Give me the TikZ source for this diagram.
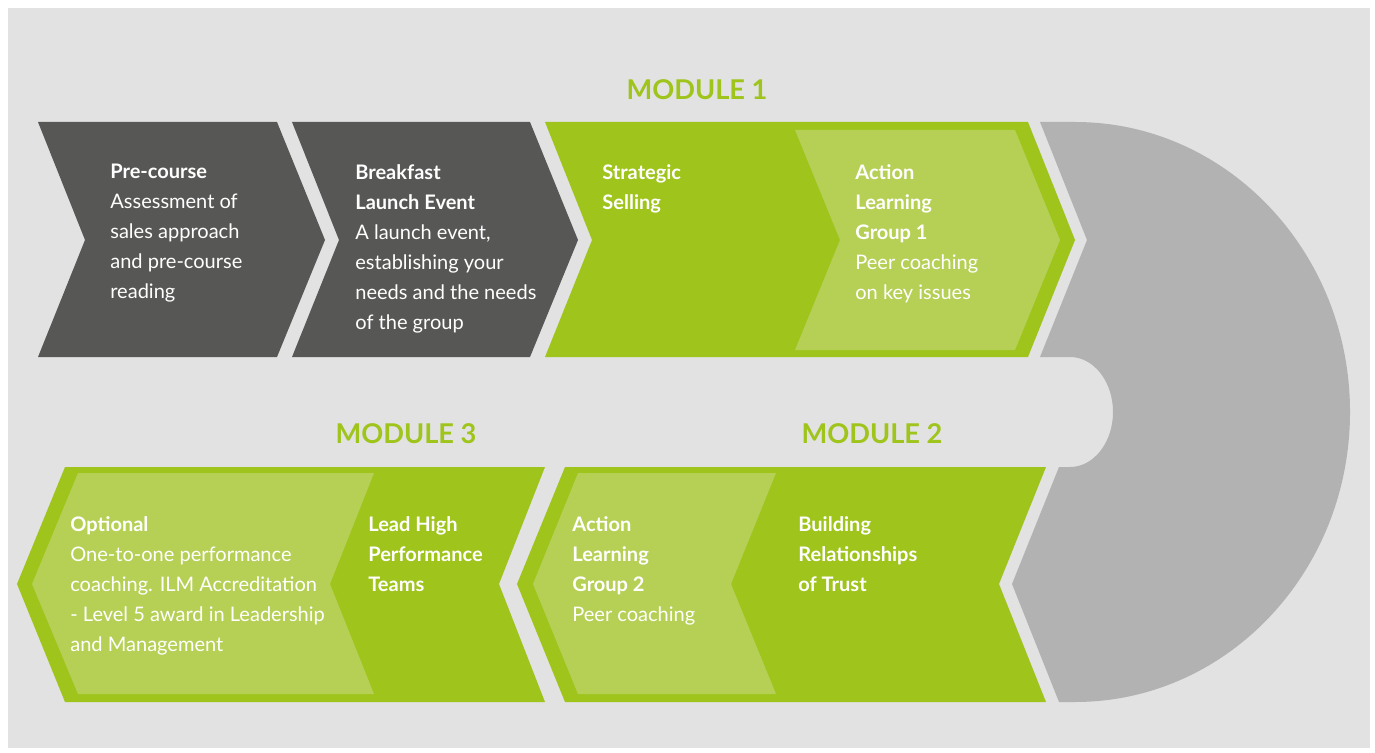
\documentclass[tikz,border=0pt]{standalone}
\usepackage{fontspec}
\setmainfont{Lato}
\usepackage{tikz}
\usetikzlibrary{positioning}
\definecolor{pagegray}{RGB}{226,226,226}
\definecolor{stepgray}{RGB}{87,87,86}
\definecolor{modgreen}{RGB}{159,196,28}
\definecolor{lightgreen}{RGB}{182,208,86}
\definecolor{loopgray}{RGB}{178,178,178}

\begin{document}
\begin{tikzpicture}[
  x=0.02cm, y=-0.02cm,
  darkstep/.style={fill=stepgray},
  modstep/.style={fill=modgreen},
  substep/.style={fill=lightgreen},
  txt/.style={anchor=north west, align=left, inner sep=0pt, text=white,
              font=\fontsize{11.4}{17.07}\selectfont},
  modlabel/.style={text=modgreen, inner sep=0pt,
                   font=\bfseries\fontsize{15.5}{18}\selectfont}
]

% page and background
\fill[white] (0,0) rectangle (1375,753);
\fill[pagegray] (8,8) rectangle (1370,748);
\useasboundingbox (0,0) rectangle (1375,753);

% return loop
\fill[loopgray] (1040,122) -- (1087,240) -- (1040,357) -- (1070,357)
  arc[start angle=-90, end angle=90, x radius=43, y radius=55]
  -- (1059,467) -- (1012,584) -- (1059,702) -- (1075,702)
  arc[start angle=90, end angle=-90, x radius=275, y radius=290]
  -- cycle;

% Pre-course and launch
\fill[darkstep] (38,122) -- (277,122) -- (325,240) -- (277,357) -- (38,357) -- (85,240) -- cycle;
\fill[darkstep] (292,122) -- (530,122) -- (578,240) -- (530,357) -- (292,357) -- (339,240) -- cycle;

\node[txt] (precourse) at (110,164) {\textbf{Pre-course}\\Assessment of\\sales approach\\and pre-course\\reading};
\node[txt] (launch) at (355,164) {\textbf{Breakfast}\\\textbf{Launch Event}\\A launch event,\\establishing your\\needs and the needs\\of the group};

% Module 1
\node[modlabel] (mod1) at (697,90) {MODULE 1};
\fill[modstep] (545,122) -- (1028,122) -- (1075,240) -- (1028,357) -- (545,357) -- (592,240) -- cycle;
\fill[substep] (795,130) -- (1015,130) -- (1060,240) -- (1015,350) -- (795,350) -- (840,240) -- cycle;

\node[txt] (selling) at (602,164) {\textbf{Strategic}\\\textbf{Selling}};
\node[txt] (alg1) at (855,164) {\textbf{Action}\\\textbf{Learning}\\\textbf{Group 1}\\Peer coaching\\on key issues};

% Module 2
\node[modlabel] (mod2) at (872,434) {MODULE 2};
\fill[modstep] (565,467) -- (1046,467) -- (999,584) -- (1046,702) -- (565,702) -- (517,584) -- cycle;
\fill[substep] (578,473) -- (776,473) -- (731,584) -- (776,694) -- (578,694) -- (533,584) -- cycle;

\node[txt] (trust) at (798,516) {\textbf{Building}\\\textbf{Relationships}\\\textbf{of Trust}};
\node[txt] (alg2) at (572,516) {\textbf{Action}\\\textbf{Learning}\\\textbf{Group 2}\\Peer coaching};

% Module 3
\node[modlabel] (mod3) at (406,434) {MODULE 3};
\fill[modstep] (65,467) -- (545,467) -- (499,584) -- (545,702) -- (65,702) -- (17,584) -- cycle;
\fill[substep] (78,473) -- (374,473) -- (330,584) -- (374,694) -- (78,694) -- (32,584) -- cycle;

\node[txt] (teams) at (368,516) {\textbf{Lead High}\\\textbf{Performance}\\\textbf{Teams}};
\node[txt] (optional) at (70,516) {\textbf{Optional}\\One-to-one performance\\coaching. ILM Accreditation\\- Level 5 award in Leadership\\and Management};

\end{tikzpicture}
\end{document}
